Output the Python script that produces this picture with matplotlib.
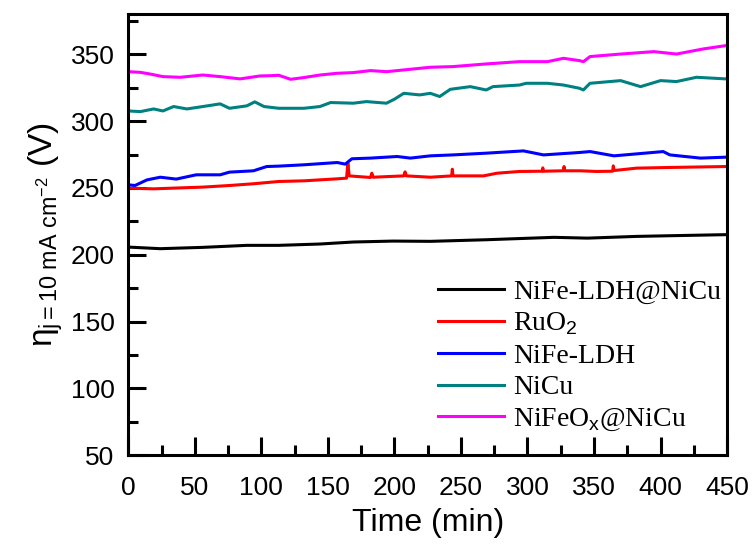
import matplotlib
matplotlib.use("Agg")
import matplotlib.pyplot as plt
from matplotlib.ticker import MultipleLocator

plt.rcParams["font.family"] = ["Liberation Sans", "DejaVu Sans"]
plt.rcParams["mathtext.fontset"] = "custom"
plt.rcParams["mathtext.rm"] = "Liberation Sans"
plt.rcParams["mathtext.it"] = "Liberation Sans"

# values (time in min, overpotential)
t_black = [0, 24, 56, 89, 113, 144, 169, 199, 227, 269, 320, 345, 382, 407, 449]
v_black = [205.7, 204.5, 205.5, 207, 207, 208, 209.5, 210.2, 210, 211.2, 213, 212.4, 213.7, 214.2, 215]

t_red = [0, 19, 56, 76, 94, 113, 132, 157, 164, 165, 166, 182, 183, 184, 207, 208, 209, 227,
         243, 243.5, 244, 267, 277, 294, 311, 311.5, 312, 327, 327.5, 328, 340, 352, 364, 364.5,
         365, 382, 407, 449]
v_red = [249.8, 249.3, 250.6, 251.8, 253.1, 254.8, 255.3, 256.8, 257.3, 268.5, 259, 257.8, 261, 258,
         259, 262, 259, 258, 259, 264, 259, 259, 261, 262.3, 262.5, 265, 262.5, 262.8, 266, 262.8,
         262.8, 262.3, 262.5, 266.5, 263, 264.8, 265.3, 266]

t_blue = [0, 5, 14, 24, 36, 51, 69, 76, 94, 104, 113, 132, 157, 163, 168, 182, 202, 212, 227, 244,
          269, 297, 312, 339, 347, 365, 402, 407, 430, 449]
v_blue = [252.3, 251.8, 256, 258, 256.6, 259.8, 259.8, 261.8, 262.8, 266, 266.3, 267.3, 269, 267.8,
          271.8, 272.3, 273.5, 272.3, 274, 274.7, 276, 277.7, 274.7, 276.5, 277.2, 274, 277.2, 274.7,
          272.3, 273]

t_teal = [0, 9, 19, 26, 34, 44, 56, 69, 76, 89, 95, 102, 113, 132, 144, 152, 169, 179, 194, 200,
          207, 219, 227, 234, 242, 257, 269, 274, 294, 299, 315, 327, 339, 342, 347, 370, 385, 400,
          412, 427, 449]
v_teal = [307.6, 307.1, 309.1, 307.6, 310.9, 309.1, 310.9, 312.9, 309.6, 311.4, 314.4, 310.9, 309.6,
          309.6, 310.9, 313.9, 313.4, 314.6, 313.4, 316.4, 320.8, 319.6, 320.8, 318.4, 323.8, 325.8,
          323.3, 325.8, 327, 328.3, 328.3, 327, 324.6, 323.3, 328.3, 330.3, 325.8, 330.3, 329.6,
          332.8, 331.6]

t_mag = [0, 9, 16, 26, 39, 56, 69, 84, 99, 107, 113, 122, 132, 144, 157, 169, 182, 194, 207, 227,
         244, 269, 294, 315, 327, 339, 342, 347, 370, 395, 412, 432, 449]
v_mag = [337, 336.5, 335.3, 333.3, 332.8, 334.5, 333.3, 331.6, 333.8, 334, 334.3, 331.3, 332.6, 334.5,
         335.8, 336.3, 337.8, 337, 338.3, 340.3, 340.8, 342.8, 344.5, 344.5, 347, 345.3, 344.5, 348.3,
         350.2, 352, 350.2, 354, 356.5]

labels = ["NiFe-LDH@NiCu", r"RuO$_2$", "NiFe-LDH", "NiCu", r"NiFeO$_x$@NiCu"]
colors = ["black", "red", "blue", "#008080", "magenta"]

fig = plt.figure(figsize=(7.55, 5.47), dpi=100)
ax = fig.add_axes([0.17, 0.168, 0.793, 0.806])

series = [(t_black, v_black), (t_red, v_red), (t_blue, v_blue), (t_teal, v_teal), (t_mag, v_mag)]
for (t, v), lab, c in zip(series, labels, colors):
    ax.plot(t, v, color=c, lw=2.2, label=lab)

ax.set_xlim(0, 450)
ax.set_ylim(50, 380)
ax.xaxis.set_major_locator(MultipleLocator(50))
ax.xaxis.set_minor_locator(MultipleLocator(25))
ax.yaxis.set_major_locator(MultipleLocator(50))
ax.yaxis.set_minor_locator(MultipleLocator(25))
ax.tick_params(which="both", direction="in", width=2.2, labelsize=19, top=False, right=False)
ax.tick_params(which="major", length=13)
ax.tick_params(which="minor", length=7)
ax.tick_params(axis="x", which="major", pad=15)
ax.tick_params(axis="y", which="major", pad=10)
for s in ax.spines.values():
    s.set_linewidth(2.2)

ax.set_xlabel("Time (min)", fontsize=23, labelpad=6)
ax.set_ylabel(r"$\mathregular{\eta_{j=10\ mA\ cm^{-2}}}$ (V)", fontsize=24, labelpad=4)

ax.legend(loc="lower right", bbox_to_anchor=(1.008, 0.025), borderaxespad=0, frameon=False,
          prop={"family": "Liberation Serif", "size": 20}, handlelength=2.4,
          handletextpad=0.3, labelspacing=0.22)

fig.savefig("out.png", dpi=100)
